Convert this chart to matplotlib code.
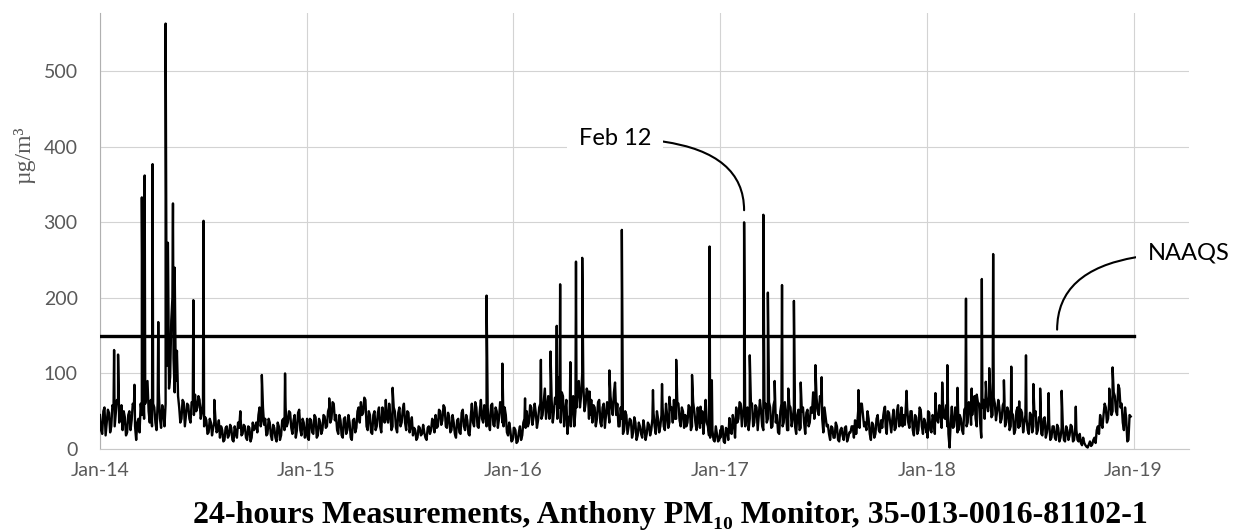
import matplotlib
matplotlib.use("Agg")
import matplotlib.pyplot as plt
import matplotlib.dates as mdates
import pandas as pd

# 24-hour PM10 readings (ug/m3); "a" lists start Jan 1, "b" lists Jan 3,
# both sampled every 4 days
pm_2014_a = [45, 20, 55, 35, 48, 30,
             55, 48, 62, 40,
             25, 42, 22,
             50, 38, 55,
             12, 40, 60,
             80, 60, 90, 35,
             30, 55, 25, 75, 28, 50,
             60, 150, 95, 200, 75, 130,
             55, 40, 62, 45, 58, 35,
             60, 72, 55, 65, 48,
             30, 38, 22, 35, 28, 40, 25,
             15, 25, 12, 30, 18, 28, 10, 22, 35,
             50,
             20, 30, 12, 28, 15, 25,
             35, 45, 30, 55, 40,
             20, 35, 12, 28, 10, 30, 18,
             40, 55, 35, 48,
             20, 45, 25, 52, 18, 35, 22]
pm_2014_b = [25, 50, 18, 52, 22, 58,
             30, 65, 35, 58,
             50, 18, 45,
             25, 60, 30,
             35, 22, 45,
             40, 75, 50, 65,
             60, 35, 62, 40, 58, 30,
             110, 80, 170, 120, 90, 70,
             35, 65, 30, 60, 40, 62,
             45, 50, 70, 40, 62,
             42, 20, 40, 18, 36, 22, 38,
             30, 10, 28, 15, 32, 12, 30, 15, 28,
             18,
             32, 15, 30, 10, 35, 28,
             22, 55, 40, 32, 18,
             40, 18, 32, 15, 35, 12, 38,
             25, 30, 50, 28,
             38, 15, 48, 25, 40, 15, 40]
pm_2015_a = [30, 12, 38, 20, 42, 18,
             35, 25, 43, 30,
             55, 40, 60, 45,
             20, 38, 15, 42, 25, 35, 12, 40, 28,
             55, 62, 48, 65,
             25, 45, 20, 50, 30, 55, 22, 40,
             65, 35, 45,
             30, 50, 22, 55, 35, 60, 25, 48, 30,
             18, 25, 15, 28, 20, 22, 12, 30, 25, 35,
             45, 30, 50, 38, 55, 28, 42, 25, 35,
             15, 40, 20, 52, 25, 38, 18,
             60, 30, 55, 28, 65, 35,
             45,
             55, 25, 60, 30, 50, 40,
             58, 30, 45, 18, 25, 12]
pm_2015_b = [15, 40, 22, 45, 15, 40,
             20, 45, 28, 50,
             35, 62, 38, 25,
             45, 18, 40, 20, 45, 15, 38, 22, 50,
             35, 45, 68, 30,
             50, 22, 45, 25, 48, 30, 55, 35,
             40, 60, 25,
             55, 28, 48, 30, 52, 35, 50, 22, 42,
             28, 12, 30, 18, 32, 15, 28, 20, 40, 22,
             28, 52, 32, 58, 30, 48, 22, 45, 20,
             38, 22, 48, 30, 45, 20, 42,
             35, 62, 30, 50, 40, 58,
             30,
             35, 58, 32, 55, 28, 62,
             35, 55, 22, 35, 10, 28]
pm_2016_a = [15, 25, 10, 30, 18, 40,
             50, 35, 55, 42, 48, 38, 60,
             45, 80, 55, 40, 65, 50,
             60, 95, 35, 70, 50, 20,
             45, 60, 30, 55,
             90, 70, 85, 60, 75, 45,
             35, 55, 40, 65, 30, 60, 45,
             50, 70, 45, 88, 60,
             30, 40,
             25,
             45, 30, 38, 22, 35, 18, 30, 15, 28, 20, 32,
             25, 48, 20, 40, 30, 55, 25, 45, 35,
             55, 65, 40, 60, 30, 50,
             45, 35, 55, 30, 50, 25, 40, 35,
             20, 65, 30, 15, 25, 10, 20, 12]
pm_2016_b = [28, 8, 22, 12, 35, 28,
             30, 58, 32, 60, 28, 55, 40,
             62, 40, 70, 58, 35, 68,
             40, 55, 75, 30, 65, 40,
             30, 70, 50, 80,
             55, 100, 50, 80, 40, 65,
             58, 30, 62, 35, 55, 28, 62,
             35, 55, 75, 45, 30,
             55, 20,
             50,
             20, 40, 15, 42, 12, 35, 20, 38, 12, 35, 18,
             40, 30, 50, 22, 45, 30, 60, 28, 52,
             35, 40, 62, 38, 55, 28,
             30, 58, 25, 62, 35, 55, 28, 50,
             40, 35, 18, 35, 12, 30, 10, 25]
pm_2017_a = [15, 30, 8, 25, 41, 20,
             35, 55, 40, 60,
             45, 30, 55,
             40, 60, 35, 55, 45,
             50, 25, 60, 40,
             55, 30, 65, 45, 20,
             60, 35, 50, 25, 55, 40, 30,
             45, 25, 50, 35, 48, 30,
             55, 75, 60, 50, 70,
             40, 55, 30,
             20, 30, 15, 35, 12, 25, 18, 28, 10, 22, 30, 15, 20,
             55, 60, 45, 35, 50,
             20, 35, 15, 40, 25, 38,
             45, 30, 50, 35,
             40, 25, 50, 30, 55, 45,
             60, 35, 50, 25, 45, 20, 55, 30, 40, 22]
pm_2017_b = [30, 10, 28, 12, 22, 45,
             15, 35, 62, 30,
             60, 50, 25,
             62, 30, 58, 25, 65,
             30, 55, 35, 62,
             28, 58, 35, 22, 50,
             30, 62, 25, 58, 30, 55, 20,
             52, 28, 55, 20, 52, 35,
             48, 40, 68, 45, 65,
             22, 42, 32,
             12, 28, 15, 30, 10, 28, 12, 30, 15, 22, 30, 38, 35,
             28, 60, 30, 25, 40,
             12, 32, 20, 45, 22, 28,
             55, 20, 48, 22,
             52, 28, 58, 35, 30, 32,
             55, 28, 50, 18, 42, 25, 52, 20, 35, 15]
pm_2018_a = [30, 48, 22, 40, 55, 35,
             50, 65, 40, 30,
             2,
             56, 30, 50, 25,
             40, 20, 55, 35, 60,
             45, 70, 30, 60, 15,
             65, 80, 50, 75, 45, 60, 50,
             55, 40, 62, 35, 50, 30,
             45, 25, 55, 30, 48, 35,
             40, 20, 45, 30, 50, 25,
             38, 18, 42, 22, 35, 15,
             30, 12, 28, 15, 32, 10, 25,
             18, 30, 12, 25, 10,
             8, 15, 5, 2, 10, 6,
             15, 25, 20, 35, 45,
             55, 40, 65, 50,
             70, 45, 80, 60,
             25, 41, 12, 43]
pm_2018_b = [50, 25, 45, 20, 38, 58,
             28, 42, 58, 20,
             35,
             28, 55, 22, 45,
             25, 52, 30, 62, 32,
             65, 40, 62, 35, 55,
             40, 60, 70, 42, 68, 38, 65,
             35, 58, 30, 55, 25, 48,
             20, 50, 28, 52, 22, 45,
             25, 48, 22, 45, 20, 42,
             20, 40, 15, 38, 12, 30,
             15, 32, 10, 28, 12, 30, 12,
             32, 10, 28, 12, 20,
             5, 8, 3, 6, 4, 12,
             8, 30, 45, 28, 60,
             35, 62, 45, 75,
             50, 85, 55, 35,
             55, 10, 45]

# high days
peak_dates = ['2014-01-26', '2014-02-02', '2014-03-03', '2014-03-16',
              '2014-03-21', '2014-04-04', '2014-04-14', '2014-04-27',
              '2014-05-01', '2014-05-10', '2014-05-13', '2014-06-15',
              '2014-07-03', '2014-07-22', '2014-10-14', '2014-11-24',
              '2015-02-10', '2015-06-02', '2015-11-15', '2015-12-13',
              '2016-01-22', '2016-02-19', '2016-03-07', '2016-03-18',
              '2016-03-24', '2016-04-11', '2016-04-21', '2016-05-02',
              '2016-05-15', '2016-06-19', '2016-07-11', '2016-09-04',
              '2016-09-20', '2016-10-03', '2016-10-15', '2016-11-12',
              '2016-11-27', '2016-12-13', '2016-12-17',
              '2017-02-12', '2017-02-22', '2017-03-18', '2017-03-26',
              '2017-04-07', '2017-04-20', '2017-05-01', '2017-05-11',
              '2017-05-23', '2017-06-18', '2017-06-29', '2017-09-02',
              '2017-10-19', '2017-11-26',
              '2018-01-16', '2018-01-28', '2018-02-06', '2018-02-24',
              '2018-03-11', '2018-03-21', '2018-03-30', '2018-04-08',
              '2018-04-15', '2018-04-21', '2018-04-28', '2018-05-17',
              '2018-05-30', '2018-06-13', '2018-06-25', '2018-07-08',
              '2018-07-20', '2018-08-04', '2018-08-27', '2018-09-21',
              '2018-11-19', '2018-11-25']
peak_values = [131, 125, 85, 333, 362, 377, 168, 563, 273, 325, 240, 197,
               302, 65, 98, 100,
               67, 81, 203, 113,
               67, 118, 129, 163, 218, 115, 248, 253, 76, 104, 290, 78,
               86, 69, 118, 98, 56, 268, 91,
               300, 124, 310, 207, 90, 217, 80, 196, 88, 111, 95, 78, 56, 77,
               74, 88, 111, 81, 199, 80, 72, 225, 89, 107, 258, 91, 109, 63,
               124, 86, 80, 74, 77, 56, 80, 108]

NAAQS = 150
year_ticks = ['2014-01-01', '2015-01-01', '2016-01-01', '2017-01-01',
              '2018-01-01', '2019-01-01']


def year_series(start, values):
    dates = pd.date_range(start, periods=len(values), freq='4D')
    return pd.Series(values, index=dates)


parts = [year_series('2014-01-01', pm_2014_a), year_series('2014-01-03', pm_2014_b),
         year_series('2015-01-01', pm_2015_a), year_series('2015-01-03', pm_2015_b),
         year_series('2016-01-01', pm_2016_a), year_series('2016-01-03', pm_2016_b),
         year_series('2017-01-01', pm_2017_a), year_series('2017-01-03', pm_2017_b),
         year_series('2018-01-01', pm_2018_a), year_series('2018-01-03', pm_2018_b),
         pd.Series(peak_values, index=pd.to_datetime(peak_dates))]
pm10 = pd.concat(parts).sort_index(kind='stable')

label_font = 'Lato'
gray = '#595959'

fig = plt.figure(figsize=(12.37, 5.31), dpi=100)
ax = fig.add_axes([0.0808, 0.1544, 0.8804, 0.8211])

ax.plot(pm10.index, pm10.values, color='black', lw=1.7, zorder=3)
ax.plot(pd.to_datetime([year_ticks[0], year_ticks[-1]]), [NAAQS, NAAQS],
        color='black', lw=2.4, zorder=4)

ax.set_xlim(pd.Timestamp('2014-01-01'), pd.Timestamp('2019-04-09'))
ax.set_ylim(0, 577)
ax.set_yticks([0, 100, 200, 300, 400, 500])
ax.set_xticks(pd.to_datetime(year_ticks))
ax.xaxis.set_major_formatter(mdates.DateFormatter('%b-%y'))
ax.grid(True, color='#d3d3d3', lw=0.8, zorder=0)
ax.set_axisbelow(True)
for side in ['top', 'right']:
    ax.spines[side].set_visible(False)
ax.spines['left'].set_color('#b0b0b0')
ax.spines['bottom'].set_color('#c8c8c8')
ax.tick_params(length=0, colors=gray, labelsize=14)
ax.tick_params(axis='y', pad=16)
ax.tick_params(axis='x', pad=9)
for lab in ax.get_xticklabels() + ax.get_yticklabels():
    lab.set_fontfamily(label_font)

ax.set_ylabel('µg/m³', family='Liberation Serif', color=gray, fontsize=17)
ax.yaxis.set_label_coords(-0.059, 0.674)

ax.annotate('Feb 12', xy=(pd.Timestamp('2017-02-12'), 316),
            xytext=(pd.Timestamp('2016-06-29'), 411), textcoords='data',
            ha='center', va='center', fontsize=17, family=label_font,
            bbox=dict(boxstyle='square,pad=0.5', fc='white', ec='none'),
            arrowprops=dict(arrowstyle='-', color='black', lw=1.5,
                            shrinkA=0, shrinkB=0,
                            connectionstyle='angle3,angleA=0,angleB=90'),
            zorder=5)
ax.annotate('NAAQS', xy=(pd.Timestamp('2018-08-19'), 158),
            xytext=(pd.Timestamp('2019-04-09'), 259), textcoords='data',
            ha='center', va='center', fontsize=17, family=label_font,
            bbox=dict(boxstyle='square,pad=0.5', fc='white', ec='none'),
            arrowprops=dict(arrowstyle='-', color='black', lw=1.5,
                            shrinkA=0, shrinkB=0,
                            connectionstyle='angle3,angleA=0,angleB=90'),
            annotation_clip=False, zorder=5)

fig.text(0.5416, 0.015,
         '24-hours Measurements, Anthony PM₁₀ Monitor, 35-013-0016-81102-1',
         ha='center', va='baseline', fontsize=23, fontweight='bold',
         family=['Liberation Serif', 'DejaVu Serif'])

fig.savefig('out.png', dpi=100)
